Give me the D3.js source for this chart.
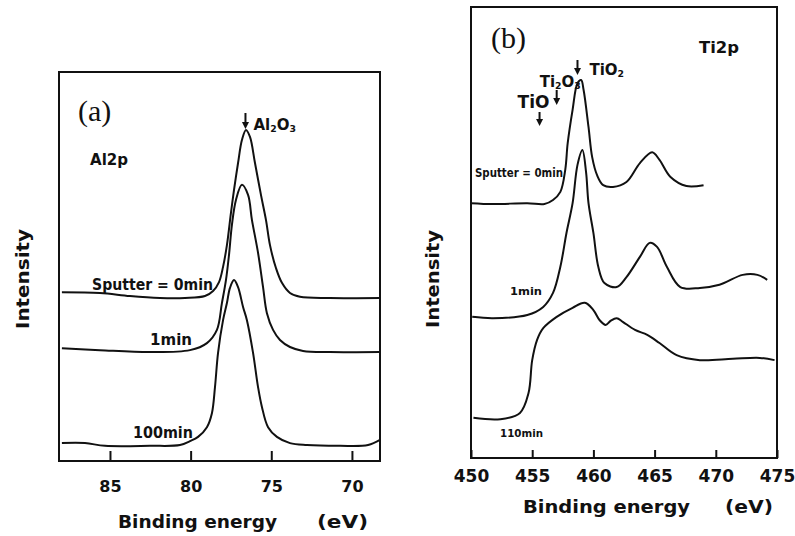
<!DOCTYPE html>
<meta charset="utf-8">
<style>
body { margin: 0; background: #fff; }
svg { display: block; }
.curve { fill: none; stroke: #111; stroke-width: 2; }
.frame { fill: none; stroke: #111; stroke-width: 2; }
text { font-family: "DejaVu Sans", sans-serif; font-weight: bold; fill: #111; }
.panel-id { font-family: "Liberation Serif", serif; font-weight: normal; font-size: 30px; }
.tick line { stroke: #111; stroke-width: 2; }
</style>
<svg width="795" height="536"></svg>
<script src="https://d3js.org/d3.v7.min.js"></script>
<script>

// (a) Al2p spectra: [binding energy eV, intensity a.u.]
var al_0min = [[87.98,43.4],[85.62,43.2],[83.76,42.4],[81.90,41.9],[80.35,41.9],[79.11,42.4],[78.61,43.7],
  [78.24,46.0],[77.99,49.9],[77.75,55.5],[77.50,63.8],[77.31,69.7],[77.06,76.6],[76.82,82.5],[76.57,85.1],
  [76.32,83.3],[76.01,76.6],[75.64,68.4],[75.33,62.0],[75.08,55.5],[74.71,49.6],[74.34,45.8],[73.84,43.2],
  [73.22,42.2],[71.36,41.9],[68.26,41.9]];
var al_1min = [[87.98,29.0],[85.62,28.5],[82.52,28.0],[80.04,28.5],[78.99,30.3],[78.37,33.7],[78.06,40.6],
  [77.81,46.5],[77.62,53.0],[77.44,60.7],[77.19,67.1],[76.82,71.0],[76.44,68.4],[76.20,62.0],[75.82,53.5],
  [75.51,44.7],[75.27,38.0],[74.89,33.7],[74.46,31.1],[73.84,29.3],[73.03,28.3],[71.36,28.0],[68.26,28.0]];
var al_100min = [[87.98,4.6],[86.55,4.6],[85.31,3.9],[82.52,3.9],[80.66,4.1],[80.04,5.1],[79.54,6.2],
  [78.99,8.7],[78.68,12.3],[78.49,19.0],[78.30,27.8],[77.99,36.2],[77.75,40.6],[77.56,44.5],[77.31,46.5],
  [77.06,44.7],[76.75,39.6],[76.51,36.2],[76.13,27.8],[75.82,19.0],[75.58,13.9],[75.20,8.7],[74.65,6.2],
  [73.84,4.6],[72.79,4.1],[70.74,3.9],[69.00,4.1],[68.26,5.4]];

// (b) Ti2p spectra
var ti_0min = [[450.0,56.5],[451.8,56.3],[454.6,56.5],[456.0,56.3],[456.7,57.2],[457.3,59.0],[457.7,63.9],
  [457.9,69.8],[458.3,77.2],[458.7,83.1],[459.0,83.8],[459.2,81.6],[459.6,73.4],[459.9,66.7],[460.3,62.7],
  [460.8,60.5],[461.6,60.1],[462.7,61.2],[463.8,65.4],[464.8,67.8],[465.4,66.1],[466.3,62.3],[467.6,60.3],
  [469.0,60.5]];
var ti_1min = [[450.1,31.3],[451.8,31.0],[454.6,31.7],[455.9,33.5],[456.7,36.6],[457.3,42.4],[457.8,49.9],
  [458.3,56.5],[458.7,65.0],[459.1,68.3],[459.4,63.4],[459.6,56.5],[460.0,49.9],[460.4,42.4],[460.9,38.8],
  [461.9,37.9],[462.7,40.1],[463.8,44.6],[464.6,47.7],[465.2,46.8],[466.0,42.4],[467.1,37.9],[468.7,37.7],
  [470.3,38.4],[472.2,40.6],[473.4,40.6],[474.2,39.5]];
var ti_110min = [[450.2,8.9],[452.4,8.6],[454.0,10.0],[454.7,14.4],[455.0,21.7],[455.4,26.2],[455.9,28.8],
  [457.0,31.3],[458.3,33.3],[459.3,34.4],[460.0,32.8],[460.5,30.6],[461.0,29.5],[461.4,30.4],[461.9,31.0],
  [462.4,30.2],[463.4,28.4],[464.4,27.3],[465.4,25.5],[466.8,22.8],[468.7,21.7],[471.4,22.0],[473.6,22.2],
  [474.8,21.7]];

var alTicks = [85, 80, 75, 70];
var tiTicks = [450, 455, 460, 465, 470, 475];

// peak markers
var alMarkers = [{label: ["Al", "2", "O", "3"], ev: 76.6}];
var tiMarkers = [{label: ["TiO", "2"], ev: 458.7},
                 {label: ["Ti", "2", "O", "3"], ev: 457.0},
                 {label: ["TiO"], ev: 455.6}];

var svg = d3.select("svg");

function panel(opt) {
  var x = d3.scaleLinear().domain(opt.xDomain).range([opt.left, opt.right]);
  var y = d3.scaleLinear().domain([0, 100]).range([opt.bottom, opt.top]);
  var g = svg.append("g");

  g.append("rect").attr("class", "frame")
    .attr("x", opt.left).attr("y", opt.top)
    .attr("width", opt.right - opt.left).attr("height", opt.bottom - opt.top);

  var ax = g.append("g")
    .attr("transform", "translate(0," + opt.bottom + ")")
    .call(d3.axisBottom(x).tickValues(opt.ticks).tickFormat(d3.format("d"))
      .tickSizeInner(-opt.tickLen).tickSizeOuter(0).tickPadding(opt.pad));
  ax.select(".domain").remove();
  ax.selectAll("text").style("font-size", opt.tickFont + "px")
    .style("font-family", "\"DejaVu Sans\", sans-serif").style("font-weight", "bold");

  var line = d3.line()
    .x(function(d) { return x(d[0]); })
    .y(function(d) { return y(d[1]); })
    .curve(d3.curveCatmullRom.alpha(0.5));

  opt.series.forEach(function(s) {
    g.append("path").attr("class", "curve").attr("d", line(s));
  });
  return {g: g, x: x, y: y};
}

function arrow(g, x, y1, y2) {
  g.append("line").attr("x1", x).attr("x2", x).attr("y1", y1).attr("y2", y2 - 4)
    .attr("stroke", "#111").attr("stroke-width", 2);
  g.append("path").attr("d", "M" + (x - 3.5) + "," + (y2 - 7) + "L" + (x + 3.5) + "," + (y2 - 7) + "L" + x + "," + y2 + "Z")
    .attr("fill", "#111");
}

function chem(g, x, y, parts, size) {
  var t = g.append("text").attr("x", x).attr("y", y).style("font-size", size + "px");
  parts.forEach(function(p, i) {
    var sub = /^\d$/.test(p);
    var ts = t.append("tspan").text(p);
    if (sub) ts.style("font-size", (size * 0.62) + "px").attr("dy", 2);
    else if (i > 0) ts.attr("dy", -2);
  });
  return t;
}

function label(g, txt, x, y, size, len) {
  var t = g.append("text").attr("x", x).attr("y", y).style("font-size", size + "px").text(txt);
  if (len) t.attr("textLength", len).attr("lengthAdjust", "spacingAndGlyphs");
  return t;
}

// panel (a)
var A = panel({left: 59, right: 380, top: 72, bottom: 461, xDomain: [88.16, 68.26],
  ticks: alTicks, tickLen: 10, pad: 20, tickFont: 16, series: [al_0min, al_1min, al_100min]});
A.g.append("text").attr("class", "panel-id").attr("x", 78).attr("y", 121).text("(a)");
label(A.g, "Al2p", 90, 165, 15, 38);
alMarkers.forEach(function(m) {
  arrow(A.g, A.x(m.ev), 113, 129);
  chem(A.g, A.x(m.ev) + 8, 130, m.label, 15);
});
label(A.g, "Sputter = 0min", 92, 290, 16, 121);
label(A.g, "1min", 150, 345, 16, 42);
label(A.g, "100min", 133, 438, 16, 60);
label(A.g, "Binding energy", 118, 528, 17, 159);
label(A.g, "(eV)", 317, 528, 17, 51);
label(A.g, "Intensity", 0, 0, 17, 100)
  .attr("text-anchor", "middle")
  .attr("transform", "translate(29,279) rotate(-90)");

// panel (b)
var B = panel({left: 471, right: 777, top: 7, bottom: 458, xDomain: [450, 475],
  ticks: tiTicks, tickLen: 8, pad: 12, tickFont: 17, series: [ti_0min, ti_1min, ti_110min]});
B.g.append("text").attr("class", "panel-id").attr("x", 491).attr("y", 48).text("(b)");
label(B.g, "Ti2p", 699, 53, 15, 40);
var tiPos = [{y1: 60, y2: 75, tx: 12, ty: 75}, {y1: 90, y2: 105, tx: -17, ty: 87}, {y1: 112, y2: 126, tx: -22, ty: 108}];
tiMarkers.forEach(function(m, i) {
  var p = tiPos[i];
  arrow(B.g, B.x(m.ev), p.y1, p.y2);
  chem(B.g, B.x(m.ev) + p.tx, p.ty, m.label, i == 2 ? 17 : 15);
});
label(B.g, "Sputter = 0min", 475, 177, 12, 88);
label(B.g, "1min", 510, 295, 11, 32);
label(B.g, "110min", 500, 437, 11, 43);
label(B.g, "Binding energy", 523, 513, 17, 167);
label(B.g, "(eV)", 725, 513, 17, 48);
label(B.g, "Intensity", 0, 0, 17, 98)
  .attr("text-anchor", "middle")
  .attr("transform", "translate(439,279) rotate(-90)");

</script>
